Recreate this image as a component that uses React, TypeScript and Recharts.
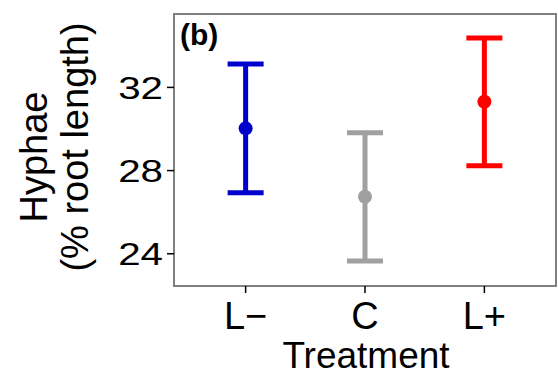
import React from 'react';
import { ScatterChart, Scatter, XAxis, YAxis, ErrorBar, ReferenceArea, Label } from 'recharts';

const treatments = ['L−', 'C', 'L+'];
const means = [30.03, 26.74, 31.31];
const lows = [26.94, 23.65, 28.23];
const highs = [33.13, 29.82, 34.38];
const colors = ['#0000CD', '#A0A0A0', '#FF0000'];
const yTicks = [24, 28, 32];
const xTicks = [1, 2, 3];
const yDomain: [number, number] = [22.45, 35.53];
const xDomain: [number, number] = [0.4, 3.6];

const FONT = '"Liberation Sans", Arial, Helvetica, sans-serif';

const series = treatments.map((t, i) => ({
  name: t,
  color: colors[i],
  data: [{ x: i + 1, y: means[i], err: [means[i] - lows[i], highs[i] - means[i]] }],
}));

const YTick = (props: any) => {
  const { x, y, payload } = props;
  return (
    <g transform={`translate(${x},${y}) scale(1.3,1)`}>
      <text x={0} y={0} dy="0.36em" textAnchor="end" fontSize={31} fontFamily={FONT} fill="#000">
        {payload.value}
      </text>
    </g>
  );
};

const XTick = (props: any) => {
  const { x, y, payload } = props;
  return (
    <text x={x} y={y + 34} textAnchor="middle" fontSize={38} fontFamily={FONT} fill="#000">
      {treatments[payload.value - 1]}
    </text>
  );
};

const Dot = (props: any) => {
  const { cx, cy, fill } = props;
  return <circle cx={cx} cy={cy} r={7} fill={fill} />;
};

export default function App() {
  return (
    <div style={{ position: 'absolute', left: 0, top: 0, background: '#fff' }}>
      <ScatterChart width={558} height={375} margin={{ top: 14, right: 2, bottom: 0, left: 0 }}>
        <XAxis
          type="number"
          dataKey="x"
          domain={xDomain}
          ticks={xTicks}
          allowDataOverflow
          height={89}
          axisLine={false}
          tickLine={{ stroke: '#000', strokeWidth: 1.5 }}
          tickSize={7}
          tickMargin={2}
          tick={<XTick />}
          interval={0}
        >
          <Label
            content={(p: any) => {
              const vb = p.viewBox || { x: 174, y: 286, width: 382, height: 89 };
              return (
                <text x={vb.x + vb.width / 2 + 1} y={vb.y + 82} textAnchor="middle" fontSize={37} fontFamily={FONT} fill="#000">
                  Treatment
                </text>
              );
            }}
          />
        </XAxis>
        <YAxis
          type="number"
          dataKey="y"
          domain={yDomain}
          ticks={yTicks}
          allowDataOverflow
          width={174}
          axisLine={false}
          tickLine={{ stroke: '#000', strokeWidth: 1.5 }}
          tickSize={7}
          tickMargin={4}
          tick={<YTick />}
          interval={0}
        >
          <Label
            content={(p: any) => {
              const vb = p.viewBox || { x: 0, y: 14, width: 174, height: 272 };
              const cy = vb.y + vb.height / 2;
              return (
                <g fontFamily={FONT} fontSize={38} fill="#000">
                  <text x={47} y={cy + 7} textAnchor="middle" transform={`rotate(-90, 47, ${cy + 7})`}>
                    Hyphae
                  </text>
                  <text x={88} y={cy - 3} textAnchor="middle" transform={`rotate(-90, 88, ${cy - 3})`}>
                    (% root length)
                  </text>
                </g>
              );
            }}
          />
        </YAxis>
        {series.map((s) => (
          <Scatter
            key={s.name}
            name={s.name}
            data={s.data}
            fill={s.color}
            shape={<Dot />}
            isAnimationActive={false}
          >
            <ErrorBar dataKey="err" direction="y" width={18} strokeWidth={5} stroke={s.color} isAnimationActive={false} />
          </Scatter>
        ))}
        <ReferenceArea
          x1={xDomain[0]}
          x2={xDomain[1]}
          y1={yDomain[0]}
          y2={yDomain[1]}
          fill="none"
          stroke="#808080"
          strokeWidth={2}
          ifOverflow="visible"
        >
          <Label
            content={(p: any) => {
              const vb = p.viewBox || { x: 174, y: 14 };
              return (
                <text x={vb.x + 6} y={vb.y + 31} fontSize={30} fontWeight="bold" fontFamily={FONT} fill="#000">
                  (b)
                </text>
              );
            }}
          />
        </ReferenceArea>
      </ScatterChart>
    </div>
  );
}
